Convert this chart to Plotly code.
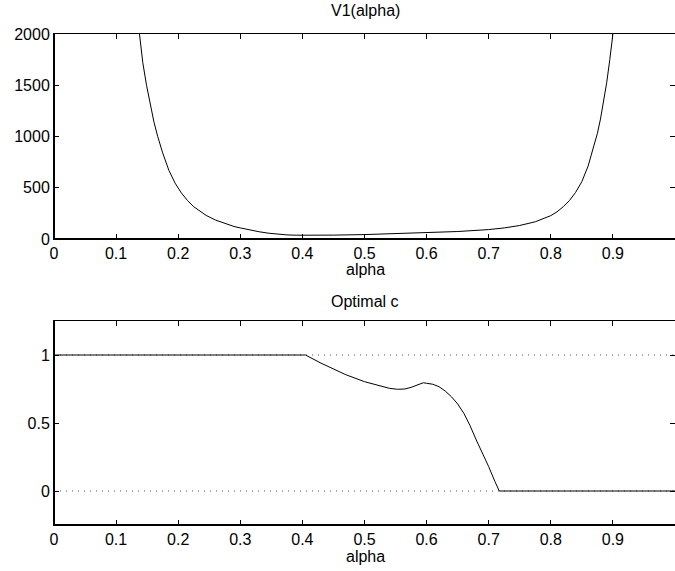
import plotly.graph_objects as go

# ---- data ----
alpha_v1 = [0.130, 0.137, 0.143, 0.149, 0.155, 0.161, 0.167, 0.175, 0.185, 0.195, 0.205,
            0.215, 0.225, 0.235, 0.245, 0.260, 0.275, 0.290, 0.300, 0.315, 0.330, 0.345,
            0.360, 0.375, 0.390, 0.400, 0.420, 0.450, 0.500, 0.550, 0.600, 0.650, 0.700,
            0.725, 0.750, 0.775, 0.800, 0.810, 0.820, 0.830, 0.840, 0.850, 0.860, 0.870,
            0.875, 0.880, 0.885, 0.890, 0.895, 0.9003, 0.905]
v1_values = [2400, 2000, 1720, 1500, 1300, 1140, 1000, 840, 670, 545, 450,
             375, 315, 268, 230, 185, 150, 122, 108, 88, 71, 57,
             47, 40, 37, 36, 36, 38, 43, 51, 60, 73, 92,
             108, 132, 168, 228, 265, 315, 375, 455, 560, 710, 910,
             1030, 1170, 1335, 1525, 1750, 2000, 2250]

alpha_c = [0.0, 0.405, 0.43, 0.452, 0.47, 0.50, 0.525, 0.54, 0.553, 0.565, 0.575, 0.585,
           0.5947, 0.60, 0.61, 0.62, 0.63, 0.64, 0.65, 0.66, 0.67, 0.68, 0.69, 0.70,
           0.71, 0.717, 1.0]
c_values = [1.0, 1.0, 0.94, 0.89, 0.855, 0.804, 0.77, 0.755, 0.748, 0.750, 0.762, 0.778,
            0.796, 0.792, 0.785, 0.767, 0.735, 0.693, 0.64, 0.571, 0.48, 0.375, 0.28, 0.179,
            0.07, 0.0, 0.0]

ref_levels = [1, 0]
x_ticks = [0, 0.1, 0.2, 0.3, 0.4, 0.5, 0.6, 0.7, 0.8, 0.9, 1]
x_tick_text = ["0", "0.1", "0.2", "0.3", "0.4", "0.5", "0.6", "0.7", "0.8", "0.9", "1"]
y1_ticks = [0, 500, 1000, 1500, 2000]
y2_ticks = [0, 0.5, 1]
y2_tick_text = ["0", "0.5", "1"]

W, H = 675, 571
FONT = "Liberation Sans, Arial, Helvetica, sans-serif"
FS = 16

def py(px):
    return (H - px) / H

fig = go.Figure()

fig.add_trace(go.Scatter(x=alpha_v1, y=v1_values, mode="lines",
                         line=dict(color="black", width=1),
                         xaxis="x", yaxis="y", showlegend=False, hoverinfo="skip"))

for lv in ref_levels:
    fig.add_trace(go.Scatter(x=[0, 1], y=[lv, lv], mode="lines",
                             line=dict(color="#555555", width=1, dash="1px,5px"),
                             xaxis="x2", yaxis="y2", showlegend=False, hoverinfo="skip"))

fig.add_trace(go.Scatter(x=alpha_c, y=c_values, mode="lines",
                         line=dict(color="black", width=1),
                         xaxis="x2", yaxis="y2", showlegend=False, hoverinfo="skip"))

axis_common = dict(showline=True, linecolor="black", linewidth=1, mirror="allticks",
                   ticks="inside", ticklen=5, tickwidth=1, tickcolor="black",
                   showgrid=False, zeroline=False,
                   tickfont=dict(family=FONT, size=FS, color="black"))

fig.update_layout(
    width=W, height=H,
    margin=dict(l=54, r=0, t=0, b=0),
    paper_bgcolor="white", plot_bgcolor="white",
    template="none",
    showlegend=False,
    xaxis=dict(domain=[0, 1], range=[0, 1], anchor="y",
               tickvals=x_ticks, ticktext=x_tick_text, **axis_common),
    yaxis=dict(domain=[py(239), py(34)], range=[0, 2000], anchor="x",
               tickvals=y1_ticks, **axis_common),
    xaxis2=dict(domain=[0, 1], range=[0, 1], anchor="y2",
                tickvals=x_ticks, ticktext=x_tick_text, **axis_common),
    yaxis2=dict(domain=[py(525), py(321)], range=[-0.25, 1.25], anchor="x2",
                tickvals=y2_ticks, ticktext=y2_tick_text, **axis_common),
)

# thicker left/bottom spines as in the reference
for (y0p, y1p) in [(py(239), py(34)), (py(525), py(321))]:
    fig.add_shape(type="line", xref="paper", yref="paper", x0=0, x1=0, y0=y0p, y1=y1p,
                  line=dict(color="black", width=2))
    fig.add_shape(type="line", xref="paper", yref="paper", x0=0, x1=1, y0=y0p, y1=y0p,
                  line=dict(color="black", width=2))

def label(text, xpx, ypx):
    fig.add_annotation(text=text, xref="paper", yref="paper",
                       x=(xpx - 54) / (W - 54), y=py(ypx), showarrow=False,
                       xanchor="center", yanchor="middle",
                       font=dict(family=FONT, size=FS, color="black"))

label("V1(alpha)", 365, 11)
label("alpha", 365, 269)
label("Optimal c", 365, 302)
label("alpha", 365, 556)

fig.write_html("out.html", config={"displayModeBar": False},
               post_script="document.body.style.margin='0';document.body.style.overflow='hidden';")
